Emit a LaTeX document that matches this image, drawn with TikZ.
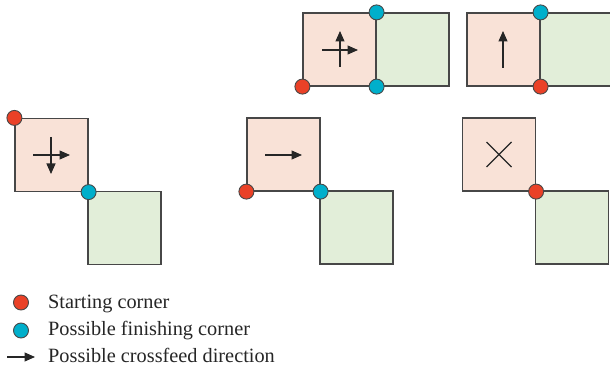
\documentclass[tikz,border=0pt]{standalone}
\usepackage{fontspec}
\setmainfont{Liberation Serif}
\usetikzlibrary{arrows.meta}
\definecolor{startfill}{HTML}{F9E2D7}
\definecolor{nextfill}{HTML}{E2EED9}
\definecolor{edgegray}{HTML}{474747}
\definecolor{startred}{HTML}{EA4127}
\definecolor{finishcyan}{HTML}{00AFCB}
\tikzset{
  cell/.style={draw=edgegray, line width=1.2pt, minimum size=73pt, inner sep=0pt},
  startcell/.style={cell, fill=startfill},
  nextcell/.style={cell, fill=nextfill},
  corner/.style={circle, draw=edgegray, line width=0.9pt, minimum size=15pt, inner sep=0pt},
  startdot/.style={corner, fill=startred},
  finishdot/.style={corner, fill=finishcyan},
  feed/.style={line width=1.1pt, draw=black!85, -{Triangle[length=10.5pt,width=9pt]}},
  legend/.style={anchor=base west, font=\fontsize{20.3}{22}\selectfont, text=black!85, inner sep=0pt}
}
\begin{document}
\begin{tikzpicture}[x=1pt, y=-1pt]
\clip (0,0) rectangle (610,366);
\fill[white] (0,0) rectangle (610,366);

% top middle: start bottom-left, finish on the shared edge
\node[startcell] (a1) at (339.5,49.5) {};
\node[nextcell]  (a2) at (412.5,49.5) {};
\draw[feed] (322,50) -- (358,50);
\draw[feed] (340,67) -- (340,31);
\node[startdot]  (a1s) at (a1.south west) {};
\node[finishdot] (a1f) at (a1.north east) {};
\node[finishdot] (a1g) at (a1.south east) {};

% top right: start on the shared bottom corner
\node[startcell] (b1) at (503.5,49.5) {};
\node[nextcell]  (b2) at (576.5,49.5) {};
\draw[feed] (503,68) -- (503,31);
\node[finishdot] (b1f) at (b1.north east) {};
\node[startdot]  (b1s) at (b1.south east) {};

% bottom left: diagonal neighbour, start top-left
\node[startcell] (c1) at (51.5,155) {};
\node[nextcell]  (c2) at (124.5,228) {};
\draw[feed] (33,155) -- (70,155);
\draw[feed] (51,137) -- (51,174);
\node[startdot]  (c1s) at (c1.north west) {};
\node[finishdot] (c1f) at (c1.south east) {};

% bottom middle: diagonal neighbour, start bottom-left
\node[startcell] (d1) at (283.5,154.5) {};
\node[nextcell]  (d2) at (356.5,227.5) {};
\draw[feed] (265,155) -- (302,155);
\node[startdot]  (d1s) at (d1.south west) {};
\node[finishdot] (d1f) at (d1.south east) {};

% bottom right: no crossfeed possible
\node[startcell] (e1) at (499,154.5) {};
\node[nextcell]  (e2) at (572,227.5) {};
\draw[line width=1.1pt, draw=black!85] (486.5,142) -- (511.5,167) (486.5,167) -- (511.5,142);
\node[startdot]  (e1s) at (e1.south east) {};

% legend
\node[startdot]  (l1) at (21,302.5) {};
\node[legend] (t1) at (48,308) {Starting corner};
\node[finishdot] (l2) at (21,330.5) {};
\node[legend] (t2) at (48,335.5) {Possible finishing corner};
\coordinate (l3a) at (7,357);
\coordinate (l3b) at (35,357);
\draw[feed] (l3a) -- (l3b);
\node[legend] (t3) at (48,362) {Possible crossfeed direction};
\end{tikzpicture}
\end{document}
